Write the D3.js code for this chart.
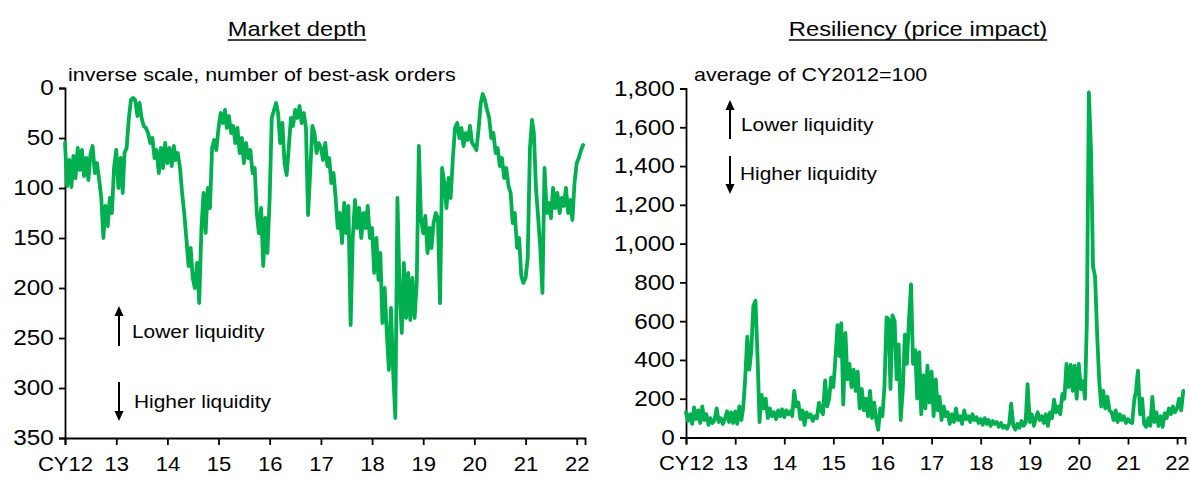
<!DOCTYPE html>
<html lang="en">
<head>
<meta charset="utf-8">
<title>Market depth and resiliency</title>
<script src="https://cdn.jsdelivr.net/npm/d3@7"></script>
<style>
  body { margin: 0; background: #fff; }
  text { font-family: "Liberation Sans", Arial, sans-serif; fill: #000; }
</style>
</head>
<body>
<svg id="chart" width="1190" height="477"></svg>
<script>
// semi-monthly readings, Jan 2012 .. Feb 2022
var depthValues = [
  55,98,72,99,68,90,60,82,62,88,70,92,66,58,85,75,92,110,150,118,138,110,125,80,
  62,100,70,105,65,60,30,12,10,12,28,15,30,38,40,45,55,50,70,62,85,60,80,55,
  75,60,78,58,72,65,80,105,125,150,178,160,190,200,175,215,140,105,145,100,120,60,52,62,
  40,25,35,22,40,28,45,38,55,40,65,50,75,55,70,62,85,80,125,145,120,178,130,165,
  110,30,22,15,25,55,35,75,87,60,30,38,22,30,18,35,25,40,127,85,38,45,65,55,
  60,72,55,78,70,95,85,110,140,125,155,115,145,118,237,150,112,140,120,150,125,140,118,150,
  140,185,150,192,165,235,200,245,282,220,285,330,110,200,245,175,230,185,232,190,230,195,58,130,
  145,128,165,140,160,135,125,130,215,80,95,120,90,110,70,40,35,50,40,58,45,52,38,55,
  58,62,40,15,6,12,22,30,50,45,65,60,78,70,90,80,98,105,135,125,160,150,188,195,
  190,170,60,32,45,100,130,160,205,80,125,115,130,100,120,105,125,110,118,100,125,112,132,95,
  75,70,62,57
];
var impactValues = [
  130,85,120,70,155,95,140,75,160,90,120,65,100,75,90,150,80,100,70,95,135,80,130,75,
  135,70,160,90,150,300,520,350,450,680,705,420,80,220,150,200,100,150,110,130,95,140,110,145,
  105,140,120,135,110,240,160,180,95,140,65,130,105,120,85,110,100,180,140,120,295,160,200,310,
  260,400,580,420,590,170,540,300,380,260,350,240,340,150,250,140,200,110,240,100,180,90,40,150,
  110,260,620,610,250,630,600,300,480,90,250,530,380,600,790,380,450,200,440,120,320,150,370,180,
  340,110,300,140,210,90,160,110,130,70,120,80,150,90,110,70,140,95,110,80,120,90,105,75,
  95,65,100,70,90,60,85,70,80,55,75,50,60,45,70,175,60,40,70,50,85,60,75,275,
  80,120,60,100,130,90,110,75,120,60,130,100,195,130,160,120,225,200,380,260,375,240,370,200,
  380,250,290,200,600,1780,1480,880,830,540,290,160,240,150,210,140,130,90,140,80,120,90,110,75,
  95,80,75,190,240,345,120,200,70,55,100,60,210,80,130,60,110,55,125,100,150,120,160,130,
  150,200,140,240
];
var yearLabels = ["CY12","13","14","15","16","17","18","19","20","21","22"];
var depthTicks = [0,50,100,150,200,250,300,350];
var impactTicks = [0,200,400,600,800,1000,1200,1400,1600,1800];

var dates = depthValues.map(function(d,i){ return new Date(2012, Math.floor(i/2), i%2 ? 16 : 1); });
var yearDates = yearLabels.map(function(d,i){ return new Date(2012 + i, 0, 1); });

var sx = 1.13; // the original lettering is a little wide
var svg = d3.select("#chart");

function addText(g, x, y, txt, size, anchor){
  return g.append("text")
    .attr("transform", "translate(" + x + "," + y + ") scale(" + sx + ",1)")
    .attr("font-size", size)
    .attr("text-anchor", anchor || "start")
    .text(txt);
}

function arrow(g, x, y1, y2){
  // y1 = tail, y2 = tip
  var dir = y2 < y1 ? 1 : -1;
  g.append("line").attr("x1", x).attr("x2", x).attr("y1", y1).attr("y2", y2 + dir*9)
    .attr("stroke", "#000").attr("stroke-width", 2);
  g.append("path")
    .attr("d", "M" + x + "," + y2 + "L" + (x-4.5) + "," + (y2 + dir*10) + "L" + (x+4.5) + "," + (y2 + dir*10) + "Z")
    .attr("fill", "#000");
}

function panel(cfg){
  var g = svg.append("g");
  var x = d3.scaleTime().domain([new Date(2012,0,1), new Date(2022,2,1)]).range([cfg.left, cfg.right]);
  var y = d3.scaleLinear().domain(cfg.ydomain).range([cfg.top, cfg.bottom]);

  var t = addText(g, cfg.titleX, 36, cfg.title, 21, "middle");
  var w = t.node().getComputedTextLength() * sx;
  g.append("line").attr("x1", cfg.titleX - w/2).attr("x2", cfg.titleX + w/2)
    .attr("y1", 40).attr("y2", 40).attr("stroke", "#000").attr("stroke-width", 1.5);

  addText(g, cfg.subX, 81, cfg.sub, 19);

  var yAxis = g.append("g").attr("transform", "translate(" + cfg.left + ",0)")
    .call(d3.axisLeft(y).tickValues(cfg.ticks).tickSizeOuter(0).tickSize(6).tickPadding(4)
      .tickFormat(d3.format(",")));
  var xAxis = g.append("g").attr("transform", "translate(0," + cfg.bottomAxis + ")")
    .call(d3.axisBottom(x).tickValues(yearDates).tickSizeOuter(0).tickSize(7).tickPadding(12)
      .tickFormat(function(d,i){ return yearLabels[i]; }));
  [yAxis, xAxis].forEach(function(a){
    a.select(".domain").attr("stroke-width", 1.8);
    a.selectAll(".tick line").attr("stroke-width", 1.8);
    a.selectAll(".tick text").attr("font-family", null)
      .attr("transform", "scale(" + sx + ",1)");
  });
  yAxis.selectAll(".tick text").attr("font-size", 21.5);
  xAxis.selectAll(".tick text").attr("font-size", 19.5);

  var line = d3.line().x(function(d,i){ return x(dates[i]); }).y(function(d){ return y(d); });
  g.append("path").datum(cfg.values).attr("d", line)
    .attr("fill", "none").attr("stroke", "#00B050").attr("stroke-width", 3.8)
    .attr("stroke-linejoin", "round").attr("stroke-linecap", "round");

  arrow(g, cfg.arrowX, cfg.upArrow[1], cfg.upArrow[0]);
  arrow(g, cfg.arrowX, cfg.downArrow[0], cfg.downArrow[1]);
  addText(g, cfg.lowX, cfg.lowY, "Lower liquidity", 18.5);
  addText(g, cfg.highX, cfg.highY, "Higher liquidity", 18.5);
}

panel({
  left: 65, right: 585, top: 88, bottom: 438, bottomAxis: 438,
  ydomain: [0, 350], ticks: depthTicks, values: depthValues,
  title: "Market depth", titleX: 297,
  sub: "inverse scale, number of best-ask orders", subX: 68,
  arrowX: 119, upArrow: [306, 346], downArrow: [382, 421],
  lowX: 132, lowY: 338, highX: 134, highY: 408
});

panel({
  left: 686, right: 1185, top: 437.5, bottom: 88.5, bottomAxis: 437.5,
  ydomain: [0, 1800], ticks: impactTicks, values: impactValues,
  title: "Resiliency (price impact)", titleX: 918,
  sub: "average of CY2012=100", subX: 694,
  arrowX: 730, upArrow: [100, 139], downArrow: [156, 194],
  lowX: 741, lowY: 131, highX: 740, highY: 180
});
</script>
</body>
</html>
